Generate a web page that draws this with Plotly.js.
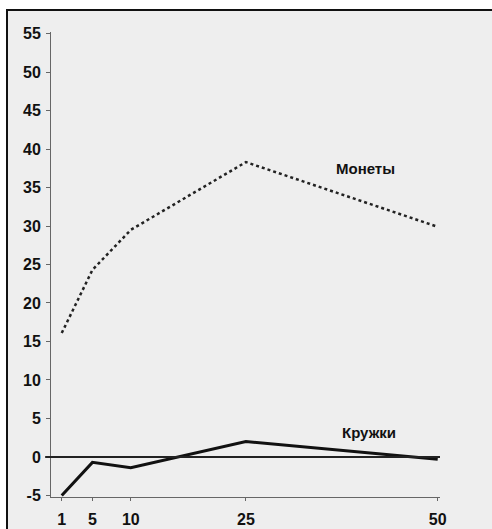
<!DOCTYPE html>
<html>
<head>
<meta charset="utf-8">
<script src="https://cdn.plot.ly/plotly-3.0.1.min.js"></script>
<style>
  html, body { margin:0; padding:0; background:#ffffff; width:492px; height:529px; overflow:hidden; }
  #chart { position:absolute; left:6px; top:9px; width:484px; height:518px;
           border-top:2px solid #111; border-left:2px solid #111; background:#eeeeee; }
</style>
</head>
<body>
<div id="chart"></div>
<script>
// Data
const xValues = [1, 5, 10, 25, 50];
const coins = [16.1, 24.3, 29.5, 38.3, 29.9];     // Монеты
const mugs = [-5, -0.7, -1.4, 2.0, -0.3];          // Кружки
const xTicks = [1, 5, 10, 25, 50];
const yTicks = [-5, 0, 5, 10, 15, 20, 25, 30, 35, 40, 45, 50, 55];
const coinsLabel = 'Монеты';
const mugsLabel = 'Кружки';

const font = {family: 'Liberation Sans, Arial, sans-serif', size: 16, color: '#111', weight: 'bold'};
const annFont = {family: 'Liberation Sans, Arial, sans-serif', size: 15, color: '#111', weight: 'bold'};

const traces = [
  {x: xValues, y: coins, mode: 'lines', line: {color: '#222', width: 2.5, dash: 'dot'}, hoverinfo: 'skip'},
  {x: xValues, y: mugs, mode: 'lines', line: {color: '#111', width: 3}, hoverinfo: 'skip'}
];

const layout = {
  width: 484, height: 518,
  margin: {l: 43, r: 52, t: 21, b: 32},
  paper_bgcolor: '#eeeeee', plot_bgcolor: '#eeeeee',
  showlegend: false,
  font: font,
  xaxis: {
    range: [-0.4, 50.3], tickvals: xTicks, ticktext: xTicks.map(String),
    showgrid: false, zeroline: false, showline: true, linecolor: '#666', linewidth: 1,
    ticks: 'outside', ticklen: 3, tickcolor: '#666', tickfont: font, fixedrange: true,
    ticklabelstandoff: 5
  },
  yaxis: {
    range: [-5.2, 55.2], tickvals: yTicks, ticktext: yTicks.map(String),
    showgrid: false, zeroline: false, showline: true, linecolor: '#666', linewidth: 1,
    ticks: 'outside', ticklen: 4, tickcolor: '#666', tickfont: font, fixedrange: true,
    ticklabelstandoff: 2
  },
  shapes: [
    {type: 'line', xref: 'paper', yref: 'y', x0: -0.015, x1: 1.0, y0: 0, y1: 0,
     line: {color: '#222', width: 2}}
  ],
  annotations: [
    {x: 40.6, y: 37.5, xref: 'x', yref: 'y', text: coinsLabel, showarrow: false, font: annFont},
    {x: 41.1, y: 3.2, xref: 'x', yref: 'y', text: mugsLabel, showarrow: false, font: annFont}
  ]
};

Plotly.newPlot('chart', traces, layout, {displayModeBar: false, staticPlot: true});
</script>
</body>
</html>
